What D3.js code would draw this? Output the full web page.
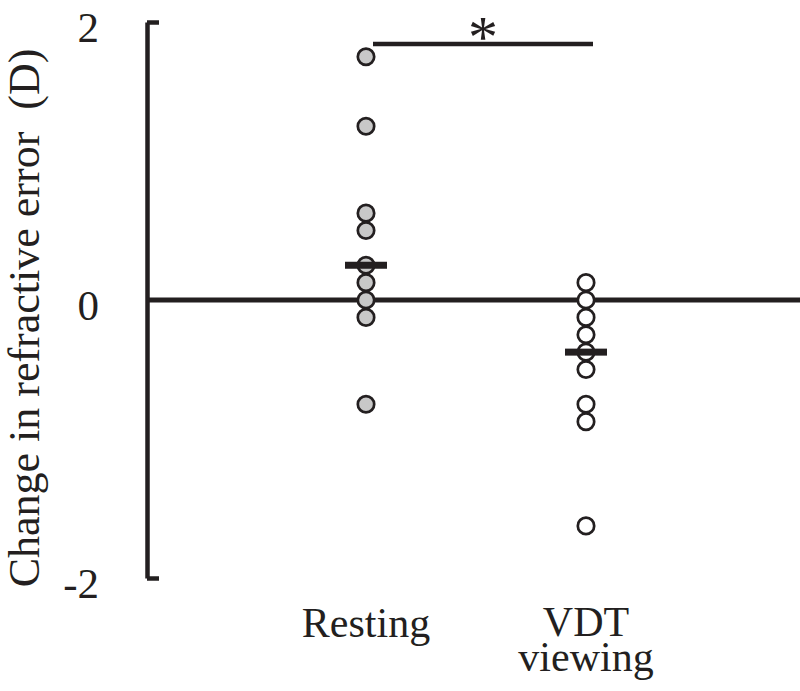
<!DOCTYPE html>
<html>
<head>
<meta charset="utf-8">
<script src="https://cdn.jsdelivr.net/npm/d3@7"></script>
<style>
  body { margin: 0; background: #fff; }
  svg { display: block; }
  text { font-family: "Liberation Serif", "Times New Roman", serif; fill: #231f20; }
</style>
</head>
<body>
<svg id="svg" width="800" height="691"></svg>
<script>
// Data (change in refractive error, D)
const categories = ["Resting", "VDT viewing"];
const restingValues = [1.75, 1.25, 0.625, 0.5, 0.25, 0.125, 0, -0.125, -0.75];
const vdtValues = [0.125, 0, -0.125, -0.25, -0.375, -0.5, -0.75, -0.875, -1.625];
const yTicks = [-2, 0, 2];

const ink = "#231f20";
const svg = d3.select("#svg");

const y = d3.scaleLinear().domain([-2, 2]).range([578, 22]);
const x = d3.scalePoint().domain(categories).range([366, 586]);
const axisX = 147;

const groups = [
    { name: categories[0], values: restingValues, fill: "#c8c8c8" },
    { name: categories[1], values: vdtValues, fill: "#ffffff" }
];

// Left bracket axis (ticks point right at the ends)
const bracket = svg.append("g")
    .attr("transform", `translate(${axisX},0)`)
    .call(d3.axisRight(y).tickValues([-2, 2]).tickSize(12).tickSizeOuter(0).tickFormat(""));
bracket.selectAll("path, line")
    .attr("stroke", ink)
    .attr("stroke-width", 4.5);

// Tick labels (plain hyphen for the minus, as in the original)
const labels = svg.append("g")
    .attr("transform", `translate(${axisX},0)`)
    .call(d3.axisLeft(y).tickValues(yTicks).tickSize(0).tickPadding(48).tickFormat(d => String(d)));
labels.select(".domain").remove();
labels.selectAll("text")
    .attr("font-size", 43)
    .attr("font-family", "Liberation Serif, serif")
    .attr("fill", ink)
    .attr("dy", "0.45em");

// Zero line
svg.append("line")
    .attr("x1", axisX).attr("x2", 800)
    .attr("y1", y(0)).attr("y2", y(0))
    .attr("stroke", ink)
    .attr("stroke-width", 5);

// Points
groups.forEach(g => {
    svg.append("g")
        .selectAll("circle")
        .data(g.values)
        .join("circle")
        .attr("cx", x(g.name))
        .attr("cy", d => y(d))
        .attr("r", 8.2)
        .attr("fill", g.fill)
        .attr("stroke", ink)
        .attr("stroke-width", 2.7);
});

// Median bars
svg.append("g")
    .selectAll("rect")
    .data(groups)
    .join("rect")
    .attr("x", d => x(d.name) - 21)
    .attr("y", d => y(d3.median(d.values)) - 3.5)
    .attr("width", 42)
    .attr("height", 7)
    .attr("fill", ink);

// Significance bar
svg.append("line")
    .attr("x1", x(categories[0]) + 7).attr("x2", x(categories[1]) + 7)
    .attr("y1", 44).attr("y2", 44)
    .attr("stroke", ink)
    .attr("stroke-width", 4.5);
svg.append("text")
    .attr("x", (x(categories[0]) + x(categories[1])) / 2 + 7)
    .attr("y", 57)
    .attr("text-anchor", "middle")
    .attr("font-size", 60)
    .text("*");

// Category labels
svg.append("text")
    .attr("x", x("Resting"))
    .attr("y", 637)
    .attr("text-anchor", "middle")
    .attr("font-size", 42)
    .text("Resting");
svg.append("text")
    .attr("x", x("VDT viewing"))
    .attr("y", 636)
    .attr("text-anchor", "middle")
    .attr("font-size", 42)
    .text("VDT");
svg.append("text")
    .attr("x", x("VDT viewing"))
    .attr("y", 671)
    .attr("text-anchor", "middle")
    .attr("font-size", 42)
    .text("viewing");

// Y axis title
svg.append("text")
    .attr("transform", "translate(39,318) rotate(-90)")
    .attr("text-anchor", "middle")
    .attr("font-size", 44)
    .attr("xml:space", "preserve")
    .text("Change in refractive error  (D)");
</script>
</body>
</html>
